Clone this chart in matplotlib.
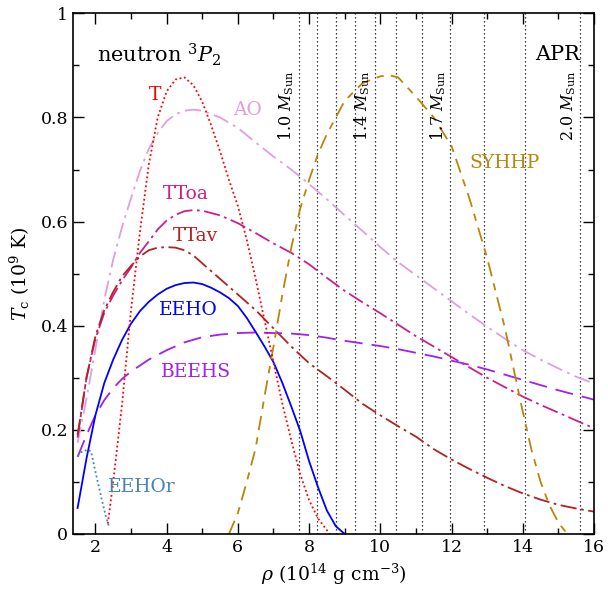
import matplotlib
matplotlib.use("Agg")
import matplotlib.pyplot as plt
from matplotlib.ticker import MultipleLocator

plt.rcParams['font.family'] = ['DejaVu Serif']
plt.rcParams['mathtext.fontset'] = 'dejavuserif'

# ---- data ----
T_x = [2.35, 2.5, 2.75, 3.0, 3.25, 3.5, 3.75, 4.0, 4.25, 4.5, 4.75, 5.0, 5.25, 5.5,
       5.75, 6.0, 6.25, 6.5, 6.75, 7.0, 7.25, 7.5, 7.75, 8.0, 8.25, 8.58]
T_y = [0.02, 0.10, 0.25, 0.43, 0.58, 0.71, 0.80, 0.85, 0.873, 0.877, 0.862, 0.83, 0.785, 0.735,
       0.68, 0.63, 0.565, 0.49, 0.41, 0.33, 0.25, 0.18, 0.115, 0.065, 0.03, 0.0]

AO_x = [1.5, 1.75, 2.0, 2.25, 2.5, 2.75, 3.0, 3.25, 3.5, 3.75, 4.0, 4.25, 4.5, 4.75, 5.0,
        5.5, 6.0, 6.5, 7.0, 7.5, 8.0, 8.5, 9.0, 9.5, 10.0, 10.5, 11.0, 11.5, 12.0, 12.5,
        13.0, 13.5, 14.0, 14.5, 15.0, 15.5, 16.0]
AO_y = [0.175, 0.26, 0.355, 0.45, 0.527, 0.59, 0.645, 0.697, 0.74, 0.77, 0.793, 0.806, 0.813, 0.815, 0.813,
        0.80, 0.78, 0.752, 0.725, 0.70, 0.672, 0.643, 0.612, 0.582, 0.551, 0.522, 0.497, 0.472, 0.447, 0.422,
        0.398, 0.375, 0.353, 0.335, 0.318, 0.302, 0.289]

TToa_x = [1.5, 1.75, 2.0, 2.25, 2.5, 2.75, 3.0, 3.25, 3.5, 3.75, 4.0, 4.25, 4.5, 4.75, 5.0,
          5.5, 6.0, 6.5, 7.0, 7.5, 8.0, 8.5, 9.0, 9.5, 10.0, 10.5, 11.0, 11.5, 12.0, 12.5,
          13.0, 13.5, 14.0, 14.5, 15.0, 15.5, 16.0]
TToa_y = [0.185, 0.30, 0.375, 0.425, 0.458, 0.487, 0.512, 0.54, 0.562, 0.585, 0.602, 0.613, 0.62, 0.622, 0.621,
          0.612, 0.597, 0.578, 0.558, 0.540, 0.518, 0.492, 0.467, 0.445, 0.424, 0.402, 0.38, 0.36, 0.34, 0.32,
          0.30, 0.282, 0.264, 0.248, 0.233, 0.218, 0.203]

TTav_x = [1.5, 1.75, 2.0, 2.25, 2.5, 2.75, 3.0, 3.25, 3.5, 3.75, 4.0, 4.25, 4.5, 4.75, 5.0,
          5.5, 6.0, 6.5, 7.0, 7.5, 8.0, 8.5, 9.0, 9.5, 10.0, 10.5, 11.0, 11.5, 12.0, 12.5,
          13.0, 13.5, 14.0, 14.5, 15.0, 15.5, 16.0]
TTav_y = [0.19, 0.30, 0.38, 0.43, 0.465, 0.495, 0.515, 0.533, 0.545, 0.55, 0.551, 0.55, 0.545, 0.535, 0.52,
          0.49, 0.46, 0.43, 0.395, 0.36, 0.328, 0.303, 0.277, 0.25, 0.228, 0.207, 0.187, 0.163, 0.143, 0.125,
          0.108, 0.092, 0.078, 0.066, 0.056, 0.049, 0.043]

EEHO_x = [1.5, 1.75, 2.0, 2.25, 2.5, 2.75, 3.0, 3.25, 3.5, 3.75, 4.0, 4.25, 4.5, 4.75, 5.0,
          5.25, 5.5, 5.75, 6.0, 6.25, 6.5, 6.75, 7.0, 7.25, 7.5, 7.75, 8.0, 8.25, 8.5, 8.75, 9.0]
EEHO_y = [0.05, 0.145, 0.228, 0.29, 0.335, 0.373, 0.404, 0.428, 0.446, 0.46, 0.471, 0.478, 0.482, 0.483, 0.48,
          0.473, 0.464, 0.453, 0.438, 0.415, 0.388, 0.36, 0.33, 0.29, 0.245, 0.198, 0.14, 0.09, 0.045, 0.015, 0.0]

BEEHS_x = [1.5, 1.75, 2.0, 2.25, 2.5, 2.75, 3.0, 3.5, 4.0, 4.5, 5.0, 5.5, 6.0, 6.5, 7.0, 7.5,
           8.0, 8.5, 9.0, 9.5, 10.0, 10.5, 11.0, 11.5, 12.0, 12.5, 13.0, 13.5, 14.0, 14.5, 15.0, 15.5, 16.0]
BEEHS_y = [0.148, 0.19, 0.228, 0.257, 0.28, 0.298, 0.312, 0.335, 0.353, 0.368, 0.378, 0.383, 0.386, 0.387, 0.386, 0.385,
           0.382, 0.377, 0.371, 0.366, 0.361, 0.355, 0.348, 0.341, 0.333, 0.325, 0.316, 0.306, 0.296, 0.286, 0.276, 0.267, 0.258]

SYHHP_x = [5.75, 6.0, 6.25, 6.5, 6.75, 7.0, 7.25, 7.5, 7.75, 8.0, 8.25, 8.5, 8.75, 9.0, 9.5, 10.0,
           10.25, 10.5, 11.0, 11.5, 12.0, 12.5, 13.0, 13.5, 13.75, 14.0, 14.25, 14.5, 14.75, 15.0, 15.25]
SYHHP_y = [0.0, 0.04, 0.10, 0.165, 0.265, 0.36, 0.46, 0.55, 0.625, 0.68, 0.73, 0.768, 0.80, 0.832, 0.866, 0.879,
           0.881, 0.877, 0.84, 0.80, 0.745, 0.645, 0.53, 0.395, 0.315, 0.235, 0.16, 0.10, 0.055, 0.022, 0.0]

EEHOr_x = [1.5, 1.6, 1.7, 1.8, 1.88, 2.0, 2.1, 2.2, 2.3, 2.38]
EEHOr_y = [0.150, 0.157, 0.160, 0.162, 0.158, 0.12, 0.09, 0.06, 0.032, 0.015]

mass_rho = [7.72, 8.23, 8.75, 9.30, 9.86, 10.45, 11.17, 11.97, 12.91, 14.06, 15.62]
mass_labels = {7.72: "1.0", 9.86: "1.4", 11.97: "1.7", 15.62: "2.0"}

# ---- figure ----
fig = plt.figure(figsize=(6.08, 5.93), dpi=100)
ax = fig.add_axes([0.120, 0.0995, 0.857, 0.878])

for r in mass_rho:
    ax.axvline(r, color='black', ls=(0, (1, 2.2)), lw=0.9, zorder=1)
    if r in mass_labels:
        ax.text(r - 0.08, 0.89, mass_labels[r] + r" $M_{\rm Sun}$", rotation=90,
                ha='right', va='top', fontsize=11.5)

lw = 1.3
ax.plot(AO_x, AO_y, color='#dda0dd', lw=lw, ls=(0, (9, 3, 1.5, 3)))
ax.plot(TToa_x, TToa_y, color='#cc1f8a', lw=lw, ls=(0, (9, 2.5, 1.5, 2.5)))
ax.plot(TTav_x, TTav_y, color='#b22222', lw=lw, ls=(0, (9, 2.5, 1.5, 2.5)))
ax.plot(BEEHS_x, BEEHS_y, color='#a020f0', lw=lw, ls=(0, (10, 5)))
ax.plot(EEHO_x, EEHO_y, color='#0000ff', lw=lw, ls='-')
ax.plot(SYHHP_x, SYHHP_y, color='#b8860b', lw=lw, ls=(0, (8, 4, 4, 4)))
ax.plot(T_x, T_y, color='#ff0000', lw=lw, ls=(0, (1, 1.5)))
ax.plot(EEHOr_x, EEHOr_y, color='#4682b4', lw=lw, ls=(0, (1, 1.5)))

lab_fs = 13.5
ax.text(3.67, 0.843, "T", color='#ff0000', fontsize=lab_fs, ha='center', va='center')
ax.text(6.28, 0.814, "AO", color='#dda0dd', fontsize=lab_fs, ha='center', va='center')
ax.text(4.54, 0.653, "TToa", color='#cc1f8a', fontsize=lab_fs, ha='center', va='center')
ax.text(4.82, 0.572, "TTav", color='#b22222', fontsize=lab_fs, ha='center', va='center')
ax.text(4.6, 0.43, "EEHO", color='#0000ff', fontsize=lab_fs, ha='center', va='center')
ax.text(4.82, 0.312, "BEEHS", color='#a020f0', fontsize=lab_fs, ha='center', va='center')
ax.text(13.5, 0.712, "SYHHP", color='#b8860b', fontsize=lab_fs, ha='center', va='center')
ax.text(3.3, 0.09, "EEHOr", color='#4682b4', fontsize=lab_fs, ha='center', va='center')

ax.text(2.05, 0.921, r"neutron $^3P_2$", fontsize=15, ha='left', va='center')
ax.text(15.62, 0.921, "APR", fontsize=15, ha='right', va='center')

ax.set_xlim(1.37, 16)
ax.set_ylim(0, 1)
ax.xaxis.set_major_locator(MultipleLocator(2))
ax.xaxis.set_minor_locator(MultipleLocator(1))
ax.yaxis.set_major_locator(MultipleLocator(0.2))
ax.yaxis.set_minor_locator(MultipleLocator(0.1))
ax.yaxis.set_major_formatter(plt.FuncFormatter(lambda v, p: "0" if abs(v) < 1e-9 else ("1" if abs(v-1) < 1e-9 else f"{v:.1f}")))
ax.tick_params(which='both', direction='in', top=True, right=True, labelsize=12.5)
ax.tick_params(which='major', length=8, width=1)
ax.tick_params(which='minor', length=4.5, width=1)
for s in ax.spines.values():
    s.set_linewidth(1.2)

ax.set_xlabel(r"$\rho$ (10$^{14}$ g cm$^{-3}$)", fontsize=13.5, labelpad=4)
ax.set_ylabel(r"$T_{\rm c}$ (10$^{9}$ K)", fontsize=13.5, labelpad=6)

fig.savefig("out.png", dpi=100)
